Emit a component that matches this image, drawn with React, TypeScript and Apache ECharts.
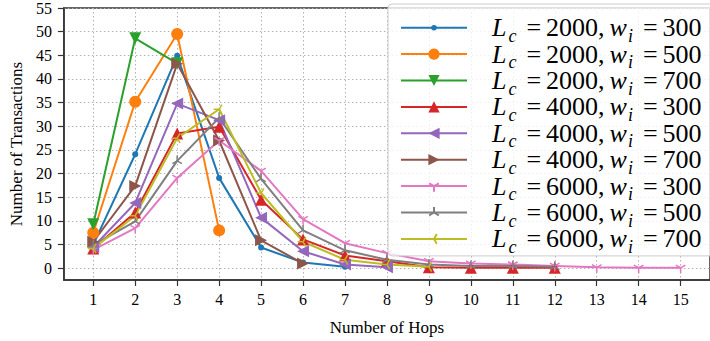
import React, { useEffect, useRef } from 'react';
import * as echarts from 'echarts';

// ---- data ----
const hops = [1, 2, 3, 4, 5, 6, 7, 8, 9, 10, 11, 12, 13, 14, 15];
const yTickValues = [0, 5, 10, 15, 20, 25, 30, 35, 40, 45, 50, 55];
const lcValues = [2000, 2000, 2000, 4000, 4000, 4000, 6000, 6000, 6000];
const wiValues = [300, 500, 700, 300, 500, 700, 300, 500, 700];

const lc2000wi300 = [5.0, 24.1, 44.9, 19.1, 4.4, 1.2, 0.3];
const lc2000wi500 = [7.5, 35.2, 49.5, 8.0];
const lc2000wi700 = [9.3, 48.6, 43.3];
const lc4000wi300 = [4.2, 11.8, 28.5, 29.9, 14.5, 6.1, 2.7, 1.5, 0.2, 0.1, 0.1, 0.1];
const lc4000wi500 = [4.5, 13.8, 34.8, 31.3, 10.7, 3.6, 0.8, 0.2];
const lc4000wi700 = [5.6, 17.4, 43.2, 27.0, 5.9, 1.0];
const lc6000wi300 = [3.9, 8.5, 19.1, 27.0, 20.6, 10.4, 5.3, 3.2, 1.5, 1.0, 0.8, 0.5, 0.2, 0.1, 0.1];
const lc6000wi500 = [4.9, 9.9, 22.7, 31.8, 18.9, 8.0, 3.8, 1.8, 0.8, 0.5, 0.5, 0.3];
const lc6000wi700 = [4.2, 11.1, 27.5, 33.6, 15.9, 5.6, 1.8, 0.8, 0.3];

const seriesValues = [
  lc2000wi300, lc2000wi500, lc2000wi700,
  lc4000wi300, lc4000wi500, lc4000wi700,
  lc6000wi300, lc6000wi500, lc6000wi700,
];

// ---- styles ----
const colors = ['#1f77b4', '#ff7f0e', '#2ca02c', '#d62728', '#9467bd', '#8c564b', '#e377c2', '#7f7f7f', '#bcbd22'];
const DOT = 'path://M-10,-10M10,10M-5,0A5,5 0 1,0 5,0A5,5 0 1,0 -5,0Z';
const TRI_DOWN = 'path://M-10,-10M10,10M0,0L0,10M0,0L-8.66,-5M0,0L8.66,-5';
const TRI_UP = 'path://M-10,-10M10,10M0,0L0,-10M0,0L-8.66,5M0,0L8.66,5';
const TRI_LEFT = 'path://M-10,-10M10,10M0,0L-10,0M0,0L5,-8.66M0,0L5,8.66';
const markers = [
  { symbol: DOT, size: 12, rotate: 0, stroke: false },
  { symbol: 'circle', size: 12, rotate: 0, stroke: false },
  { symbol: 'triangle', size: 12, rotate: 180, stroke: false },
  { symbol: 'triangle', size: 12, rotate: 0, stroke: false },
  { symbol: 'triangle', size: 12, rotate: 90, stroke: false },
  { symbol: 'triangle', size: 12, rotate: -90, stroke: false },
  { symbol: TRI_DOWN, size: 11, rotate: 0, stroke: true },
  { symbol: TRI_UP, size: 11, rotate: 0, stroke: true },
  { symbol: TRI_LEFT, size: 11, rotate: 0, stroke: true },
];

const SERIF = '"Liberation Serif", "DejaVu Serif", serif';

export default function App() {
  const ref = useRef<HTMLDivElement>(null);
  useEffect(() => {
    document.body.style.margin = '0';
    if (!ref.current) return;
    const chart = echarts.init(ref.current, undefined, { renderer: 'svg' });
    const names = lcValues.map((lc, i) => `Lc=${lc},wi=${wiValues[i]}`);
    const series = seriesValues.map((vals, i) => ({
      name: names[i],
      type: 'line',
      data: vals.map((v, j) => [hops[j], v]),
      symbol: markers[i].symbol,
      symbolSize: markers[i].size,
      symbolRotate: markers[i].rotate,
      symbolKeepAspect: true,
      lineStyle: { width: 2, color: colors[i] },
      itemStyle: {
        color: colors[i],
        borderColor: colors[i],
        borderWidth: markers[i].stroke ? 1.5 : 0,
      },
      emphasis: { disabled: true },
      animation: false,
    }));
    const main = { fontFamily: SERIF, color: '#000', fontSize: 26, height: 24, lineHeight: 24, verticalAlign: 'middle' };
    chart.setOption({
      animation: false,
      grid: {
        left: 60.7,
        top: 7.3,
        right: -6.5,
        bottom: 53.7,
        show: true,
        borderColor: '#333',
        borderWidth: 1.5,
        backgroundColor: 'transparent',
      },
      xAxis: {
        type: 'value',
        min: 0.3,
        max: 15.7,
        name: 'Number of Hops',
        nameLocation: 'middle',
        nameGap: 39,
        nameTextStyle: { fontFamily: SERIF, fontSize: 17, color: '#000' },
        axisLine: { show: true, onZero: false, lineStyle: { color: '#333', width: 1.5 } },
        axisTick: { show: true, length: 6, customValues: hops, lineStyle: { color: '#333', width: 1.2 } },
        axisLabel: { customValues: hops, fontFamily: SERIF, fontSize: 16, color: '#000', margin: 11 },
        splitLine: { show: true, lineStyle: { color: '#b0b0b0', type: [1.5, 2.5], width: 1 } },
      },
      yAxis: {
        type: 'value',
        min: -2.48,
        max: 55,
        name: 'Number of Transactions',
        nameLocation: 'middle',
        nameGap: 34,
        nameTextStyle: { fontFamily: SERIF, fontSize: 17, color: '#000' },
        axisLine: { show: true, onZero: false, lineStyle: { color: '#333', width: 1.5 } },
        axisTick: { show: true, length: 6, customValues: yTickValues, lineStyle: { color: '#333', width: 1.2 } },
        axisLabel: { customValues: yTickValues, fontFamily: SERIF, fontSize: 16, color: '#000', margin: 12 },
        splitLine: { show: true, lineStyle: { color: '#b0b0b0', type: [1.5, 2.5], width: 1 } },
      },
      legend: {
        orient: 'vertical',
        left: 388,
        top: 4,
        padding: [10.7, 12, 0, 12],
        itemWidth: 66,
        itemHeight: 14,
        itemGap: -3.6,
        backgroundColor: 'rgba(255,255,255,0.8)',
        borderColor: '#cccccc',
        borderWidth: 1,
        borderRadius: 4,
        data: names,
        formatter: (name: string) => {
          const i = names.indexOf(name);
          return `{sp|}{itL|L}{sub|c}{eq|=}{rm|${lcValues[i]}}{cm|,}{itW|w}{sub|i}{eq|=}{rm|${wiValues[i]}}`;
        },
        textStyle: {
          fontFamily: SERIF,
          fontSize: 26,
          color: '#000',
          lineHeight: 24,
          rich: {
            sp: { width: 20, height: 24, lineHeight: 24 },
            itL: { ...main, fontStyle: 'italic', fontSize: 26, padding: [0, 2, 0, 0] },
            itW: { ...main, fontStyle: 'italic', fontSize: 26, padding: [0, 1, 0, 0] },
            sub: { fontFamily: SERIF, color: '#000', fontStyle: 'italic', fontSize: 18, height: 8, lineHeight: 8, verticalAlign: 'bottom', padding: [0, 5, 0, 0] },
            rm: { ...main },
            cm: { ...main, padding: [0, 5, 0, 0] },
            eq: { ...main, padding: [0, 5, 0, 5] },
          },
        },
      },
      series,
    });
    return () => chart.dispose();
  }, []);
  return <div ref={ref} style={{ width: 710, height: 341 }} />;
}
